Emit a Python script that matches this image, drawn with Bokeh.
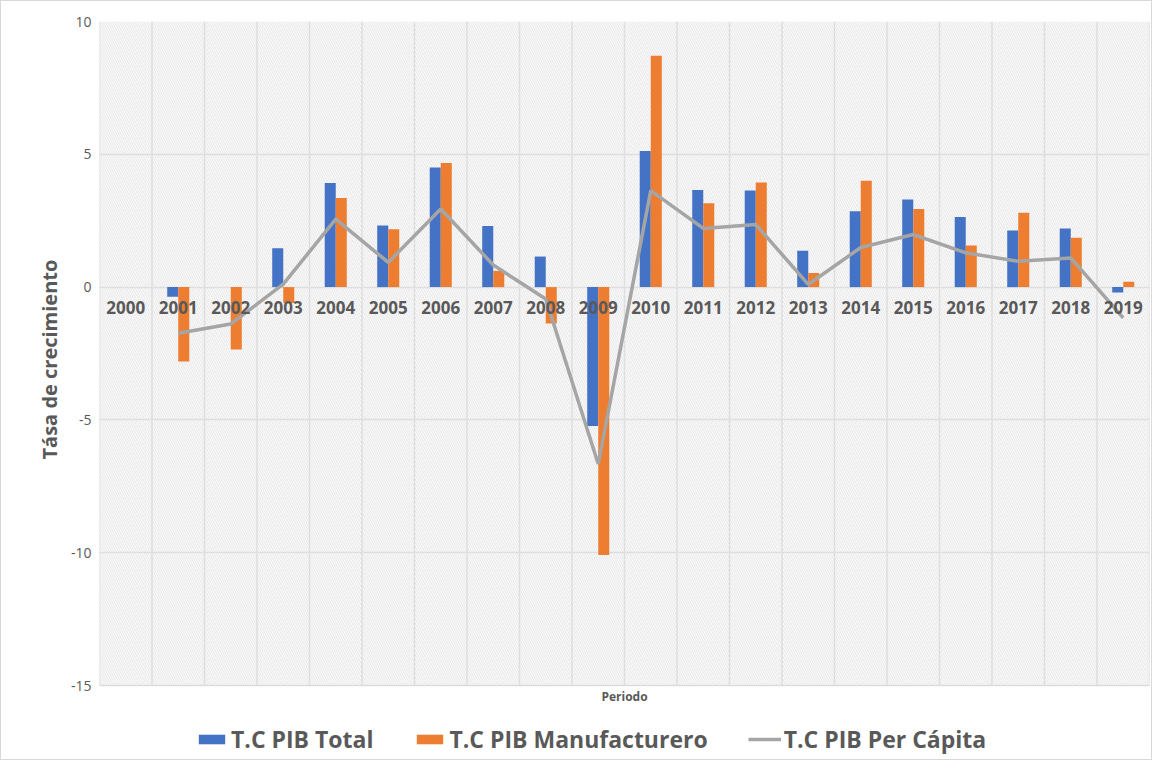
from bokeh.plotting import figure
from bokeh.models import (ColumnDataSource, Range1d, FixedTicker, Legend, LegendItem,
                          BoxAnnotation, Title)
from bokeh.transform import dodge
from bokeh.core.properties import value
from bokeh.embed import file_html
from bokeh.resources import INLINE

years = [2000, 2001, 2002, 2003, 2004, 2005, 2006, 2007, 2008, 2009,
         2010, 2011, 2012, 2013, 2014, 2015, 2016, 2017, 2018, 2019]
pib_total = [0.0, -0.36, 0.0, 1.46, 3.92, 2.32, 4.50, 2.30, 1.15, -5.23,
             5.12, 3.66, 3.64, 1.37, 2.86, 3.30, 2.64, 2.13, 2.21, -0.20]
pib_manuf = [0.0, -2.80, -2.35, -0.60, 3.35, 2.18, 4.67, 0.61, -1.37, -10.09,
             8.71, 3.16, 3.94, 0.53, 4.00, 2.94, 1.57, 2.80, 1.86, 0.20]
line_years = years[1:]
pib_percap = [-1.74, -1.39, 0.11, 2.56, 0.93, 2.94, 0.83, -0.45, -6.66,
              3.63, 2.21, 2.36, 0.10, 1.49, 1.98, 1.29, 0.97, 1.10, -1.16]
year_labels = [str(y) for y in years]
y_ticks = [-15, -10, -5, 0, 5, 10]
x_title = "Periodo"
y_title = "Tása de crecimiento"
series_names = ["T.C PIB Total", "T.C PIB Manufacturero", "T.C PIB Per Cápita"]

FONT = "Open Sans"
TXT = "#595959"
GRID = "#d9d9d9"

# geometry (pixels)
CHART_H = 664          # height of the gridded chart area
EXTRA_H = 72           # space below it for the x title and the legend
FRAME_W = 1050

y_lo, y_hi = y_ticks[0], y_ticks[-1]
px_per_unit = CHART_H / (y_hi - y_lo)
y_start = y_lo - EXTRA_H / px_per_unit

src = ColumnDataSource(dict(year=years, total=pib_total, manuf=pib_manuf,
                            zero=[0.0] * len(years), lab=year_labels))
lsrc = ColumnDataSource(dict(year=line_years, pc=pib_percap))
bounds = [y - 0.5 for y in years] + [years[-1] + 0.5]
gsrc = ColumnDataSource(dict(x=bounds, y0=[y_lo] * len(bounds), y1=[y_hi] * len(bounds)))

p = figure(frame_width=FRAME_W, frame_height=CHART_H + EXTRA_H, output_backend="svg",
           toolbar_location=None,
           x_range=Range1d(years[0] - 0.5, years[-1] + 0.5),
           y_range=Range1d(y_start, y_hi),
           min_border_left=98, min_border_right=2, min_border_top=20, min_border_bottom=2)
p.outline_line_color = None
p.background_fill_color = "white"
p.styles = {"border": "1px solid #d9d9d9"}

# hatched chart background
p.add_layout(BoxAnnotation(bottom=y_lo, top=y_hi, fill_alpha=0, line_color=None,
                           hatch_pattern="\\", hatch_color="#e4e4e4", hatch_scale=4.5,
                           hatch_weight=1, level="underlay"))

# grid
p.xgrid.visible = False
p.ygrid.ticker = FixedTicker(ticks=y_ticks)
p.ygrid.grid_line_color = GRID
p.ygrid.grid_line_width = 1.5
p.segment(x0="x", x1="x", y0="y0", y1="y1", source=gsrc, line_color=GRID,
          line_width=1.5, level="underlay")

bw = 0.21
r1 = p.vbar(x=dodge("year", -bw / 2), top="total", bottom=0, width=bw, source=src,
            fill_color="#4472C4", line_color=None)
r2 = p.vbar(x=dodge("year", bw / 2), top="manuf", bottom=0, width=bw, source=src,
            fill_color="#ED7D31", line_color=None)
r3 = p.line(x="year", y="pc", source=lsrc, line_color="#A5A5A5", line_width=3.5)

# category labels next to the zero line
p.text(x="year", y="zero", text="lab", source=src, text_align="center",
       text_baseline="middle", y_offset=20, text_font=value(FONT),
       text_font_style="bold", text_font_size="17px", text_color=TXT)

# x title under the chart area
p.text(x=[(years[0] + years[-1]) / 2], y=[y_lo], text=[x_title], text_align="center",
       text_baseline="middle", y_offset=11, text_font=value(FONT),
       text_font_style="bold", text_font_size="12px", text_color=TXT)

# y axis
p.yaxis.ticker = FixedTicker(ticks=y_ticks)
p.yaxis.major_label_overrides = {t: str(t) for t in y_ticks}
p.yaxis.axis_line_color = None
p.yaxis.major_tick_line_color = None
p.yaxis.minor_tick_line_color = None
p.yaxis.major_tick_out = 0
p.yaxis.major_label_text_font = FONT
p.yaxis.major_label_text_font_size = "14px"
p.yaxis.major_label_text_color = TXT
p.yaxis.major_label_standoff = 8

p.xaxis.visible = False

# y title, centred on the gridded chart area (not on the legend strip)
p.add_layout(Title(text=y_title, align="left", offset=EXTRA_H + 226,
                   text_font=FONT, text_font_style="bold", text_font_size="20px",
                   text_color=TXT, standoff=10), "left")

legend = Legend(items=[LegendItem(label=series_names[0], renderers=[r1]),
                       LegendItem(label=series_names[1], renderers=[r2]),
                       LegendItem(label=series_names[2], renderers=[r3])],
                orientation="horizontal", location=(96, 2),
                label_text_font=FONT, label_text_font_style="bold",
                label_text_font_size="23px", label_text_color=TXT,
                label_height=26, glyph_width=33, glyph_height=12, spacing=40,
                label_standoff=3, padding=0, margin=0,
                border_line_color=None, background_fill_alpha=0)
p.add_layout(legend, "center")

open("out.html", "w").write(file_html(p, INLINE))
